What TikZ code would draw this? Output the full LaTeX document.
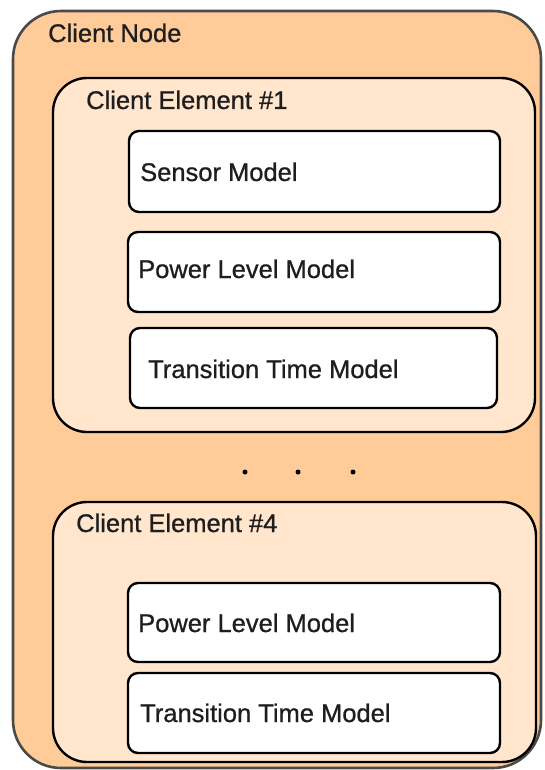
\documentclass[tikz,border=0pt]{standalone}
\usepackage{fontspec}
\setmainfont{Liberation Sans}
\newfontfamily\labelfont[FakeBold=0.8]{Liberation Sans}
\usetikzlibrary{positioning}
\definecolor{nodefill}{HTML}{FFCC99}
\definecolor{elemfill}{HTML}{FFE6CC}
\definecolor{nodeline}{HTML}{4A4A4A}
\definecolor{txt}{HTML}{1E1E1E}
\tikzset{
  frame/.style={anchor=north west, inner sep=0pt, outer sep=0pt},
  clientnode/.style={frame, draw=nodeline, line width=2.6pt, fill=nodefill, rounded corners=48pt},
  element/.style={frame, draw=black, line width=2.4pt, fill=elemfill, rounded corners=34pt},
  modelbox/.style={frame, draw=black, line width=2.4pt, fill=white, rounded corners=10pt},
  lbl/.style={anchor=base west, inner sep=0pt, text=txt, font=\labelfont\fontsize{25.5}{30}\selectfont},
  dot/.style={circle, fill=black, inner sep=0pt, minimum size=5pt}
}
\newcommand{\boxat}[6]{% style, name, x1, y1, x2, y2
  \node[#1, minimum width={(#5-#3)*1pt}, minimum height={(#6-#4)*1pt}] (#2) at (#3,#4) {};}
\begin{document}
\begin{tikzpicture}[x=1pt, y=-1pt]
  \useasboundingbox (0,0) rectangle (544,770);

  % outer client node
  \boxat{clientnode}{cn}{13}{11}{541}{768}
  \node[lbl] (cnl) at (48,42) {Client Node};

  % client element #1
  \boxat{element}{ce1}{53}{78}{535}{432}
  \node[lbl] (ce1l) at (86,109) {Client Element \#1};
  \boxat{modelbox}{sm1}{129}{131}{500}{212}
  \node[lbl] (sm1l) at (140,181) {Sensor Model};
  \boxat{modelbox}{pl1}{128}{232}{500}{312}
  \node[lbl] (pl1l) at (138,278) {Power Level Model};
  \boxat{modelbox}{tt1}{130}{328}{497}{408}
  \node[lbl] (tt1l) at (148,378) {Transition Time Model};

  % ellipsis between elements
  \node[dot] (d1) at (245,472) {};
  \node[dot] (d2) at (298,472) {};
  \node[dot] (d3) at (353,472) {};

  % client element #4
  \boxat{element}{ce4}{53}{502}{536}{762}
  \node[lbl] (ce4l) at (76,532) {Client Element \#4};
  \boxat{modelbox}{pl4}{128}{583}{500}{662}
  \node[lbl] (pl4l) at (138,632) {Power Level Model};
  \boxat{modelbox}{tt4}{128}{673}{500}{753}
  \node[lbl] (tt4l) at (140,722) {Transition Time Model};
\end{tikzpicture}
\end{document}
